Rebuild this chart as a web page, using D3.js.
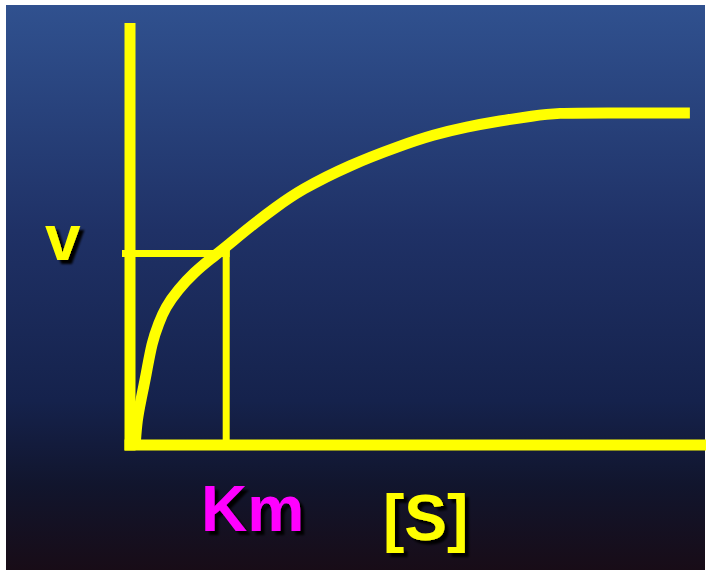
<!DOCTYPE html>
<html>
<head>
<meta charset="utf-8">
<script src="https://cdn.jsdelivr.net/npm/d3@7"></script>
<style>
  html, body { margin: 0; padding: 0; background: #ffffff; }
  svg { display: block; }
</style>
</head>
<body>
<div id="chart"></div>
<script>
// substrate conc [S] and rate v (arbitrary units 0-100)
const sValues = [0.9, 1.2, 1.9, 2.8, 3.8, 5.0, 6.1, 8.3, 11.3, 13.9, 16.7, 20.8, 25.2, 29.5, 38.2, 46.9, 52.6, 58.5, 64.2, 70.0, 74.1, 81.6, 97.2];
const vValues = [0, 5.9, 10.7, 16.6, 24.4, 28.9, 32.5, 36.8, 41.1, 44.0, 47.0, 51.7, 56.2, 60.4, 66.4, 70.9, 73.5, 75.4, 76.8, 78.0, 78.7, 78.7, 78.7];
const kmValue = 16.7;
const halfV = 45.4;
const axisLabels = ["v", "Km", "[S]"];

const width = 706;
const height = 574;

const svg = d3.select("#chart")
    .append("svg")
    .attr("width", width)
    .attr("height", height);

const defs = svg.append("defs");
const grad = defs.append("linearGradient")
    .attr("id", "bg")
    .attr("x1", 0).attr("y1", 0)
    .attr("x2", 0).attr("y2", 1);
[
    [0, "#30518f"],
    [0.4, "#1f3166"],
    [0.7, "#15224c"],
    [0.85, "#11152d"],
    [1, "#180c17"]
].forEach(([o, c]) => grad.append("stop").attr("offset", o).attr("stop-color", c));

defs.append("filter")
    .attr("id", "shadow")
    .attr("x", "-20%").attr("y", "-20%")
    .attr("width", "150%").attr("height", "150%")
    .append("feDropShadow")
    .attr("dx", 4).attr("dy", 4)
    .attr("stdDeviation", 1)
    .attr("flood-color", "#000000")
    .attr("flood-opacity", 1);

// background panel
svg.append("rect")
    .attr("x", 6)
    .attr("y", 5)
    .attr("width", 699)
    .attr("height", 565)
    .attr("fill", "url(#bg)");

const xScale = d3.scaleLinear().domain([0, 100]).range([130, 706]);
const yScale = d3.scaleLinear().domain([0, 100]).range([445, 23]);

const yellow = "#ffff00";

// Km guide lines
svg.append("line")
    .attr("x1", xScale(0) - 8)
    .attr("x2", xScale(kmValue) + 3.5)
    .attr("y1", yScale(halfV))
    .attr("y2", yScale(halfV))
    .attr("stroke", yellow)
    .attr("stroke-width", 7);
svg.append("line")
    .attr("x1", xScale(kmValue))
    .attr("x2", xScale(kmValue))
    .attr("y1", yScale(halfV) - 3.5)
    .attr("y2", yScale(0))
    .attr("stroke", yellow)
    .attr("stroke-width", 7);

// axes (no ticks)
svg.append("line")
    .attr("x1", xScale(0))
    .attr("x2", xScale(0))
    .attr("y1", yScale(0) + 5.5)
    .attr("y2", yScale(100))
    .attr("stroke", yellow)
    .attr("stroke-width", 11);
svg.append("line")
    .attr("x1", xScale(0) - 5.5)
    .attr("x2", xScale(100))
    .attr("y1", yScale(0))
    .attr("y2", yScale(0))
    .attr("stroke", yellow)
    .attr("stroke-width", 11);

// saturation curve
const points = sValues.map((s, i) => [s, vValues[i]]);
const line = d3.line()
    .x(d => xScale(d[0]))
    .y(d => yScale(d[1]))
    .curve(d3.curveBasis);

svg.append("path")
    .datum(points)
    .attr("d", line)
    .attr("fill", "none")
    .attr("stroke", yellow)
    .attr("stroke-width", 11)
    .attr("stroke-linejoin", "round");

// labels
const labelFont = "'Liberation Sans', Arial, sans-serif";

svg.append("text")
    .attr("x", 45)
    .attr("y", 260)
    .style("font-family", labelFont)
    .style("font-size", "64px")
    .style("font-weight", "bold")
    .style("fill", yellow)
    .attr("filter", "url(#shadow)")
    .text(axisLabels[0]);

svg.append("text")
    .attr("x", 201)
    .attr("y", 531)
    .style("font-family", labelFont)
    .style("font-size", "64px")
    .style("font-weight", "bold")
    .style("fill", "#ff00ff")
    .attr("filter", "url(#shadow)")
    .text(axisLabels[1]);

svg.append("text")
    .attr("x", 383)
    .attr("y", 540)
    .style("font-family", labelFont)
    .style("font-size", "64px")
    .style("font-weight", "bold")
    .style("fill", yellow)
    .attr("filter", "url(#shadow)")
    .text(axisLabels[2]);
</script>
</body>
</html>
